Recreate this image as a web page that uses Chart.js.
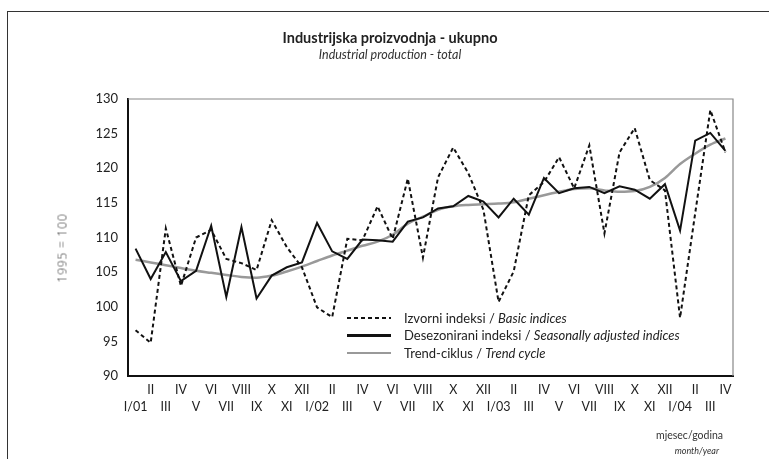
<!DOCTYPE html>
<html>
<head>
<meta charset="utf-8">
<script src="https://cdn.jsdelivr.net/npm/chart.js@4.4.1/dist/chart.umd.min.js"></script>
<style>
  html, body { margin: 0; padding: 0; background: #fff; }
  body { width: 769px; height: 459px; overflow: hidden; position: relative; font-family: Lato, "Open Sans", sans-serif; color: #222; }
  #okvir { position: absolute; left: 7px; top: 11px; width: 900px; height: 600px; border-left: 1px solid #333; border-top: 1px solid #333; }
  #graf { position: absolute; left: 0; top: 0; }
  .naslov { position: absolute; left: 0; width: 780px; text-align: center; }
  #n1 { top: 29px; font-weight: bold; font-size: 14.5px; }
  #n2 { top: 47px; font-style: italic; font-size: 12.5px; color: #333; }
  #yNaslov { position: absolute; left: 62px; top: 248px; transform: translate(-50%, -50%) rotate(-90deg); font-family: "Open Sans", sans-serif; font-size: 12px; font-weight: 300; color: #333; white-space: nowrap; letter-spacing: 0.8px; }
  #legenda { position: absolute; left: 347px; top: 309px; font-size: 13px; }
  .red { height: 17.5px; display: flex; align-items: center; white-space: nowrap; }
  .uzorak { width: 44px; margin-right: 13px; }
  .isprekidana { height: 2.2px; background: repeating-linear-gradient(90deg, #111 0 4px, transparent 4px 7px); }
  .puna { height: 2.5px; background: #111; }
  .trend { height: 2.5px; background: #999; }
  .jedinica { position: absolute; right: 46px; text-align: right; white-space: nowrap; }
  #j1 { top: 429px; font-size: 10.5px; color: #333; }
  #j2 { top: 445px; font-size: 9px; font-style: italic; color: #333; right: 50px; }
</style>
</head>
<body>
<div id="okvir"></div>
<canvas id="graf" width="769" height="459"></canvas>
<div class="naslov" id="n1">Industrijska proizvodnja - ukupno</div>
<div class="naslov" id="n2">Industrial production - total</div>
<div id="yNaslov">1995 = 100</div>
<div id="legenda">
  <div class="red"><div class="uzorak isprekidana"></div><span>Izvorni indeksi / <i>Basic indices</i></span></div>
  <div class="red"><div class="uzorak puna"></div><span>Desezonirani indeksi / <i>Seasonally adjusted indices</i></span></div>
  <div class="red"><div class="uzorak trend"></div><span>Trend-ciklus / <i>Trend cycle</i></span></div>
</div>
<div class="jedinica" id="j1">mjesec/godina</div>
<div class="jedinica" id="j2">month/year</div>

<script>
// PODACI
const mjeseci = [
    "I/01", "II", "III", "IV", "V", "VI", "VII", "VIII", "IX", "X", "XI", "XII",
    "I/02", "II", "III", "IV", "V", "VI", "VII", "VIII", "IX", "X", "XI", "XII",
    "I/03", "II", "III", "IV", "V", "VI", "VII", "VIII", "IX", "X", "XI", "XII",
    "I/04", "II", "III", "IV"
]

// Izvorni indeksi / Basic indices
const izvorni = [
    96.6, 94.8, 111.3, 103.0, 110.0, 111.1, 106.9, 106.3, 105.3, 112.5, 108.6, 105.7,
    99.9, 98.5, 109.8, 109.6, 114.5, 109.8, 118.5, 107.1, 118.7, 123.0, 119.3, 114.0,
    100.7, 105.1, 116.1, 118.0, 121.6, 117.1, 123.3, 110.6, 122.3, 125.8, 118.3, 116.8,
    98.4, 113.5, 128.4, 122.3
]

// Desezonirani indeksi / Seasonally adjusted indices
const desezonirani = [
    108.4, 104.0, 107.9, 103.7, 105.2, 111.7, 101.4, 111.5, 101.2, 104.5, 105.7, 106.4,
    112.1, 108.0, 106.9, 109.7, 109.6, 109.4, 112.3, 112.9, 114.2, 114.5, 116.0, 115.2,
    112.9, 115.6, 113.3, 118.6, 116.4, 117.1, 117.3, 116.4, 117.4, 116.9, 115.6, 117.7,
    111.0, 124.0, 125.1, 122.5
]

// Trend-ciklus / Trend cycle
const trendCiklus = [
    106.8, 106.4, 106.0, 105.6, 105.2, 104.9, 104.6, 104.3, 104.2, 104.5, 105.1, 105.8,
    106.6, 107.4, 108.1, 108.8, 109.4, 110.4, 112.0, 113.0, 114.0, 114.5, 114.7, 114.8,
    114.9, 115.1, 115.6, 116.1, 116.6, 117.0, 117.1, 116.8, 116.6, 116.7, 117.3, 118.6,
    120.6, 122.1, 123.4, 124.3
]

const yMin = 90
const yMax = 130
const yKorak = 5

// FUNKCIJE
// parni mjeseci idu u gornji red, neparni u donji
function dvaReda(oznake) {
    return oznake.map((o, i) => (i % 2 === 0 ? ["", o] : [o, ""]))
}

// tanki sivi okvir gore i desno
const okvirPlugin = {
    id: "okvirGrafa",
    afterDraw(chart) {
        const { ctx, chartArea } = chart
        ctx.save()
        ctx.strokeStyle = "#888"
        ctx.lineWidth = 1.2
        ctx.beginPath()
        ctx.moveTo(chartArea.left, chartArea.top)
        ctx.lineTo(chartArea.right, chartArea.top)
        ctx.lineTo(chartArea.right, chartArea.bottom)
        ctx.stroke()
        ctx.restore()
    }
}

function graficar() {
    const ctx = document.getElementById("graf").getContext("2d")
    new Chart(ctx, {
        type: "line",
        data: {
            labels: dvaReda(mjeseci),
            datasets: [
                {
                    label: "Trend-ciklus / Trend cycle",
                    data: trendCiklus,
                    borderColor: "#999",
                    borderWidth: 2.5,
                    cubicInterpolationMode: "monotone",
                    pointRadius: 0,
                    order: 3,
                },
                {
                    label: "Desezonirani indeksi / Seasonally adjusted indices",
                    data: desezonirani,
                    borderColor: "#111",
                    borderWidth: 2,
                    pointRadius: 0,
                    tension: 0,
                    order: 2,
                },
                {
                    label: "Izvorni indeksi / Basic indices",
                    data: izvorni,
                    borderColor: "#111",
                    borderWidth: 2,
                    borderDash: [4, 3],
                    pointRadius: 0,
                    tension: 0,
                    order: 1,
                },
            ],
        },
        options: {
            responsive: false,
            animation: false,
            layout: {
                padding: { top: 99, right: 36, left: 0, bottom: 0 },
            },
            scales: {
                x: {
                    offset: true,
                    grid: { display: false, drawTicks: false },
                    border: { display: true, color: "#111", width: 2 },
                    ticks: {
                        autoSkip: false,
                        maxRotation: 0,
                        minRotation: 0,
                        padding: 5,
                        color: "#222",
                        font: { family: "Lato", size: 12.5, lineHeight: 1.36 },
                    },
                    afterFit: (scale) => { scale.height = 83 },
                },
                y: {
                    min: yMin,
                    max: yMax,
                    grid: { display: false, drawTicks: false },
                    border: { display: true, color: "#111", width: 2 },
                    ticks: {
                        stepSize: yKorak,
                        padding: 10,
                        color: "#222",
                        font: { family: "Lato", size: 13 },
                    },
                    afterFit: (scale) => { scale.width = 128 },
                },
            },
            plugins: {
                legend: { display: false },
                tooltip: { enabled: false },
            },
        },
        plugins: [okvirPlugin],
    })
}

// IZVRŠAVANJE
graficar()
</script>
</body>
</html>
